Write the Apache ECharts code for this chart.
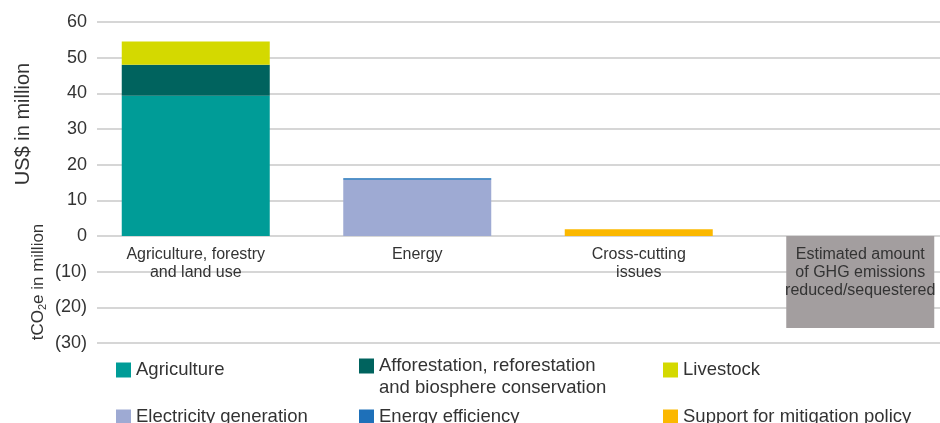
<!DOCTYPE html>
<html>
<head>
<meta charset="utf-8">
<script src="https://cdn.jsdelivr.net/npm/echarts@6/dist/echarts.min.js"></script>
<style>
  html, body { margin: 0; padding: 0; background: #fff; }
  #chart { width: 940px; height: 423px; }
</style>
</head>
<body>
<div id="chart"></div>
<script>
// Categories along the x axis
const categories = [
  'Agriculture, forestry\nand land use',
  'Energy',
  'Cross-cutting\nissues',
  'Estimated amount\nof GHG emissions\nreduced/sequestered'
];

// Funding by sub-sector (US$ million); last column is emissions (tCO2e million, negative)
const agriculture      = [39.3, null, null, null];
const afforestation    = [8.7, null, null, null];
const livestock        = [6.5, null, null, null];
const electricity      = [null, 15.8, null, null];
const energyEfficiency = [null, 0.4, null, null];
const mitigationPolicy = [null, null, 1.9, null];
const ghgReduced       = [null, null, null, -25.8];

// Tick values on the value axis
const yTicks = [-30, -20, -10, 0, 10, 20, 30, 40, 50, 60];

const seriesDefs = [
  { name: 'Agriculture', data: agriculture, color: '#009C97' },
  { name: 'Afforestation, reforestation\nand biosphere conservation', data: afforestation, color: '#00635E' },
  { name: 'Livestock', data: livestock, color: '#D4D900' },
  { name: 'Electricity generation', data: electricity, color: '#9EAAD3' },
  { name: 'Energy efficiency', data: energyEfficiency, color: '#1E70B9' },
  { name: 'Support for mitigation policy', data: mitigationPolicy, color: '#FBB800' },
  { name: 'GHG', data: ghgReduced, color: '#A39E9F' }
];

const font = 'Liberation Sans, Arial, sans-serif';
const textColor = '#333333';

const chart = echarts.init(document.getElementById('chart'), null, { renderer: 'canvas' });

const fmt = v => v < 0 ? '(' + Math.abs(v) + ')' : String(v);

// Plot area
const gridTop = 22, gridBottom = 80, chartH = 423;
const plotH = chartH - gridTop - gridBottom;
// distance from the bottom edge of the plot up to the zero line
const zeroOffset = plotH * (0 - yTicks[0]) / (yTicks[yTicks.length - 1] - yTicks[0]);

// Legend placement: one legend block per entry
const legendPos = [
  { left: 116, top: 359 },
  { left: 359, top: 333 },
  { left: 663, top: 359 },
  { left: 116, top: 406 },
  { left: 359, top: 406 },
  { left: 663, top: 406 }
];

const legends = seriesDefs.slice(0, 6).map((s, i) => {
  const multiLine = s.name.indexOf('\n') >= 0;
  return {
    data: [s.name],
    left: legendPos[i].left,
    top: legendPos[i].top,
    padding: 0,
    icon: 'rect',
    itemWidth: 15,
    itemHeight: 15,
    selectedMode: false,
    // a blank leading line keeps the swatch level with the first text line
    formatter: multiLine ? (n => ' \n' + n) : (n => n),
    textStyle: { color: textColor, fontSize: 18.5, fontFamily: font, lineHeight: 22 }
  };
});

const option = {
  animation: false,
  backgroundColor: '#ffffff',
  legend: legends,
  grid: [
    // bars and category labels
    { left: 85, width: 886, top: gridTop, bottom: gridBottom, containLabel: false, outerBoundsMode: 'none' },
    // value axis ticks and gridlines
    { left: 97, right: 0, top: gridTop, bottom: gridBottom, containLabel: false, outerBoundsMode: 'none' }
  ],
  xAxis: [
    {
      type: 'category',
      gridIndex: 0,
      data: categories,
      z: 5,
      position: 'bottom',
      offset: -zeroOffset,
      axisLine: { show: false, onZero: false },
      axisTick: { show: false },
      axisLabel: {
        color: textColor, fontSize: 16, fontFamily: font,
        lineHeight: 18, margin: 10, interval: 0
      }
    },
    {
      type: 'value', gridIndex: 1, show: false, min: 0, max: 1
    }
  ],
  yAxis: [
    {
      type: 'value', gridIndex: 0, min: yTicks[0], max: yTicks[yTicks.length - 1], interval: 10,
      axisLabel: { show: false }, axisLine: { show: false },
      axisTick: { show: false }, splitLine: { show: false }
    },
    {
      type: 'value', gridIndex: 1, min: yTicks[0], max: yTicks[yTicks.length - 1], interval: 10,
      axisLine: { show: false },
      axisTick: { show: false },
      axisLabel: {
        color: textColor, fontSize: 18, fontFamily: font, margin: 10,
        formatter: fmt
      },
      splitLine: { show: true, lineStyle: { color: '#C8C8C8', width: 1.5 } }
    }
  ],
  graphic: [
    {
      type: 'text',
      x: 23, y: 124, rotation: Math.PI / 2,
      style: {
        text: 'US$ in million',
        fontSize: 20, fontFamily: font, fill: textColor,
        align: 'center', verticalAlign: 'middle'
      }
    },
    {
      type: 'text',
      x: 38, y: 282, rotation: Math.PI / 2,
      style: {
        text: '{a|tCO}{s|2}{a|e in million}',
        align: 'center', verticalAlign: 'middle',
        rich: {
          a: { fontSize: 17, fontFamily: font, fill: textColor, color: textColor },
          s: { fontSize: 11, fontFamily: font, fill: textColor, color: textColor, padding: [9, 0, 0, 0] }
        }
      }
    }
  ],
  series: seriesDefs.map(s => ({
    name: s.name,
    type: 'bar',
    xAxisIndex: 0,
    yAxisIndex: 0,
    stack: 'total',
    barWidth: 148,
    data: s.data,
    itemStyle: { color: s.color },
    emphasis: { disabled: true }
  }))
};

chart.setOption(option);
</script>
</body>
</html>
